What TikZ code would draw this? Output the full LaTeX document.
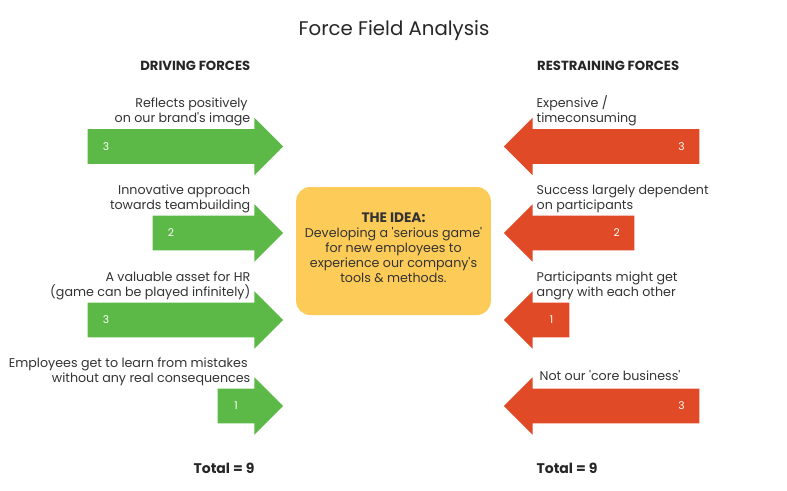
\documentclass[tikz,border=0pt]{standalone}
\usepackage{fontspec}
\setmainfont{Poppins}
\usetikzlibrary{shapes.arrows,positioning}
\definecolor{drivegreen}{HTML}{5DB947}
\definecolor{restrainred}{HTML}{E04A26}
\definecolor{ideayellow}{HTML}{FDCB58}
\definecolor{inktext}{HTML}{333333}
\tikzset{
    forcearrow/.style={single arrow, inner sep=0pt, inner ysep=12.75pt, single arrow head extend=8.6pt, single arrow head indent=0pt, anchor=tip},
    drive/.style={forcearrow, fill=drivegreen},
    restrain/.style={forcearrow, fill=restrainred, shape border rotate=180},
    score/.style={text=white, font=\fontsize{8}{9}\selectfont},
    reason/.style={text=inktext, font=\fontsize{9.5}{11.25}\selectfont},
    reasonleft/.style={reason, align=right, anchor=south east},
    reasonright/.style={reason, align=left, anchor=south west},
    heading/.style={text=black!85, font=\fontsize{9.9}{11}\selectfont\bfseries},
    total/.style={text=black!85, font=\fontsize{10.5}{12}\selectfont\bfseries},
}
\begin{document}
\begin{tikzpicture}[x=0.75pt, y=-0.75pt]
    \useasboundingbox (0,0) rectangle (787,490);
    \node[text=black!85, font=\fontsize{14.8}{18}\selectfont] (title) at (394,31) {Force Field Analysis};
    \node[heading, anchor=east] (drivehead) at (255,66) {DRIVING FORCES};
    \node[heading, anchor=west] (restrainhead) at (532.5,66) {RESTRAINING FORCES};

    \node[fill=ideayellow, rounded corners=10.5pt, minimum width=146pt, minimum height=96pt, align=center, reason] (idea) at (393.5,251) {\textbf{\fontsize{10.3}{11.25}\selectfont THE IDEA:}\\Developing a \textquotesingle serious game\textquotesingle\\for new employees to\\experience our company\textquotesingle s\\tools \& methods.\\[-7pt]\mbox{}};

    % driving side
    \node[drive, minimum height=146.6pt] (d1) at (283.5,146.5) {};
    \node[drive, minimum height=97.9pt] (d2) at (283.5,233) {};
    \node[drive, minimum height=146.6pt] (d3) at (283.5,320) {};
    \node[drive, minimum height=49.1pt] (d4) at (283.5,406) {};
    \node[score] (d1n) at ([xshift=14pt]d1.tail) {3};
    \node[score] (d2n) at ([xshift=14pt]d2.tail) {2};
    \node[score] (d3n) at ([xshift=14pt]d3.tail) {3};
    \node[score] (d4n) at ([xshift=14pt]d4.tail) {1};
    \node[reasonleft] (d1t) at (255,130.5) {Reflects positively\hspace{2pt}\mbox{}\\on our brand\textquotesingle s image};
    \node[reasonleft] (d2t) at (255,217.5) {Innovative approach\\towards teambuilding};
    \node[reasonleft] (d3t) at (255,304.5) {A valuable asset for HR\\(game can be played infinitely)};
    \node[reasonleft] (d4t) at (255,390.5) {Employees get to learn from mistakes\hspace{2pt}\mbox{}\\without any real consequences};

    % restraining side
    \node[restrain, minimum height=146.6pt] (r1) at (503.5,146.5) {};
    \node[restrain, minimum height=97.9pt] (r2) at (503.5,233) {};
    \node[restrain, minimum height=49.1pt] (r3) at (503.5,320) {};
    \node[restrain, minimum height=146.6pt] (r4) at (503.5,406) {};
    \node[score] (r1n) at ([xshift=-13.5pt]r1.tail) {3};
    \node[score] (r2n) at ([xshift=-13.5pt]r2.tail) {2};
    \node[score] (r3n) at ([xshift=-13.5pt]r3.tail) {1};
    \node[score] (r4n) at ([xshift=-13.5pt]r4.tail) {3};
    \node[reasonright] (r1t) at (532,130.5) {Expensive /\\timeconsuming};
    \node[reasonright] (r2t) at (532,217.5) {Success largely dependent\\on participants};
    \node[reasonright] (r3t) at (532,304.5) {Participants might get\\angry with each other};
    \node[reason, anchor=west] (r4t) at (535,376) {Not our \textquotesingle core business\textquotesingle};

    \node[total] (drivetotal) at (224,468) {Total = 9};
    \node[total] (restraintotal) at (567,468) {Total = 9};
\end{tikzpicture}
\end{document}
